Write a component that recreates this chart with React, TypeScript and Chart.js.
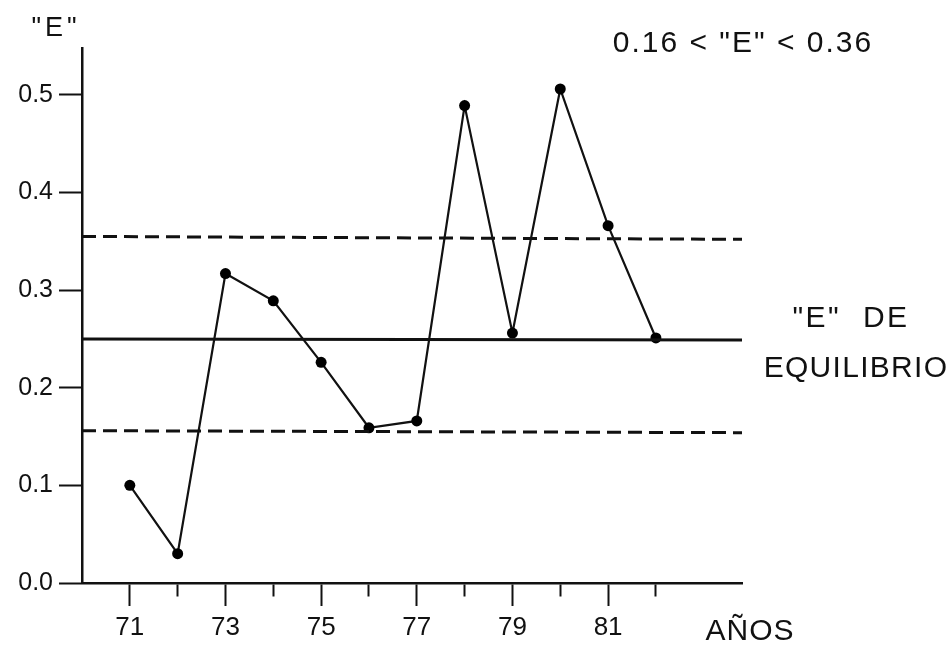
import React, { useEffect, useRef } from "react";
import { Chart, registerables } from "chart.js";

Chart.register(...registerables);

const years = [71, 72, 73, 74, 75, 76, 77, 78, 79, 80, 81, 82];
const eValues = [0.1, 0.03, 0.317, 0.289, 0.226, 0.159, 0.166, 0.489, 0.256, 0.506, 0.366, 0.251];
const yTickValues = [0, 0.1, 0.2, 0.3, 0.4, 0.5];
const upperBand = [0.355, 0.352];
const lowerBand = [0.156, 0.154];
const equilibrium = [0.25, 0.249];
const xMin = 70;
const xMax = 83.8;
const yMin = 0;
const yMax = 0.548;

const FONT = "'Liberation Sans', Arial, sans-serif";

const textPlugin = {
  id: "textPlugin",
  afterDraw(chart: any) {
    const ctx = chart.ctx;
    ctx.save();
    ctx.fillStyle = "#111";
    ctx.textBaseline = "middle";
    ctx.textAlign = "center";
    const draw = (t: string, x: number, y: number, size: number, ls: number) => {
      ctx.font = `${size}px ${FONT}`;
      (ctx as any).letterSpacing = `${ls}px`;
      ctx.fillText(t, x, y);
    };
    draw('"E"', 56, 29, 27, 4);
    draw('0.16 < "E" < 0.36', 743, 44, 30, 2);
    draw('"E"  DE', 851, 319, 30, 2.5);
    draw("EQUILIBRIO", 856, 369, 30, 1.3);
    draw("AÑOS", 750, 632, 30, 1);
    ctx.restore();
  },
};

export default function App() {
  const ref = useRef<HTMLCanvasElement>(null);
  useEffect(() => {
    if (!ref.current) return;
    const pts = years.map((x, i) => ({ x, y: eValues[i] }));
    const band = (v: number[]) => [
      { x: xMin, y: v[0] },
      { x: xMax, y: v[1] },
    ];
    const chart = new Chart(ref.current, {
      type: "line",
      data: {
        datasets: [
          {
            data: band(upperBand),
            borderColor: "#111",
            borderWidth: 3,
            borderDash: [14, 7],
            pointRadius: 0,
          },
          {
            data: band(lowerBand),
            borderColor: "#111",
            borderWidth: 3,
            borderDash: [14, 7],
            pointRadius: 0,
          },
          {
            data: band(equilibrium),
            borderColor: "#111",
            borderWidth: 3,
            pointRadius: 0,
          },
          {
            data: pts,
            borderColor: "#111",
            borderWidth: 2.2,
            pointRadius: 5.5,
            pointBackgroundColor: "#000",
            pointBorderColor: "#000",
            pointBorderWidth: 0,
          },
        ],
      } as any,
      options: {
        animation: false,
        responsive: false,
        devicePixelRatio: 1,
        layout: { padding: { top: 48, right: 210, left: 0, bottom: 0 } },
        plugins: { legend: { display: false }, tooltip: { enabled: false }, title: { display: false } },
        scales: {
          x: {
            type: "linear",
            min: xMin,
            max: xMax,
            afterBuildTicks: (s: any) => {
              s.ticks = years.map((v) => ({ value: v }));
            },
            afterFit: (s: any) => {
              s.height = 65;
            },
            border: { display: true, color: "#111", width: 2.5 },
            grid: {
              drawOnChartArea: false,
              drawTicks: true,
              tickLength: 23,
              tickWidth: 2,
              tickColor: "#111",
              tickBorderDash: (c: any) => (c.tick && c.tick.value % 2 === 0 ? [12, 40] : []),
            } as any,
            ticks: {
              autoSkip: false,
              maxRotation: 0,
              padding: 6,
              color: "#111",
              font: { family: FONT, size: 26 },
              callback: (v: any) => (Number(v) % 2 === 1 ? String(v) : ""),
            },
          },
          y: {
            type: "linear",
            min: yMin,
            max: yMax,
            afterBuildTicks: (s: any) => {
              s.ticks = yTickValues.map((v) => ({ value: v }));
            },
            afterFit: (s: any) => {
              s.width = 82;
            },
            border: { display: true, color: "#111", width: 2.5 },
            grid: {
              drawOnChartArea: false,
              drawTicks: true,
              tickLength: 23,
              tickWidth: 2,
              tickColor: "#111",
            },
            ticks: {
              padding: 6,
              color: "#111",
              font: { family: FONT, size: 25 },
              callback: (v: any) => Number(v).toFixed(1),
            },
          },
        },
      },
      plugins: [textPlugin],
    });
    return () => chart.destroy();
  }, []);
  return (
    <div style={{ position: "fixed", left: 0, top: 0, width: 952, height: 648, background: "#fff" }}>
      <canvas ref={ref} width={952} height={648} style={{ width: 952, height: 648 }} />
    </div>
  );
}
